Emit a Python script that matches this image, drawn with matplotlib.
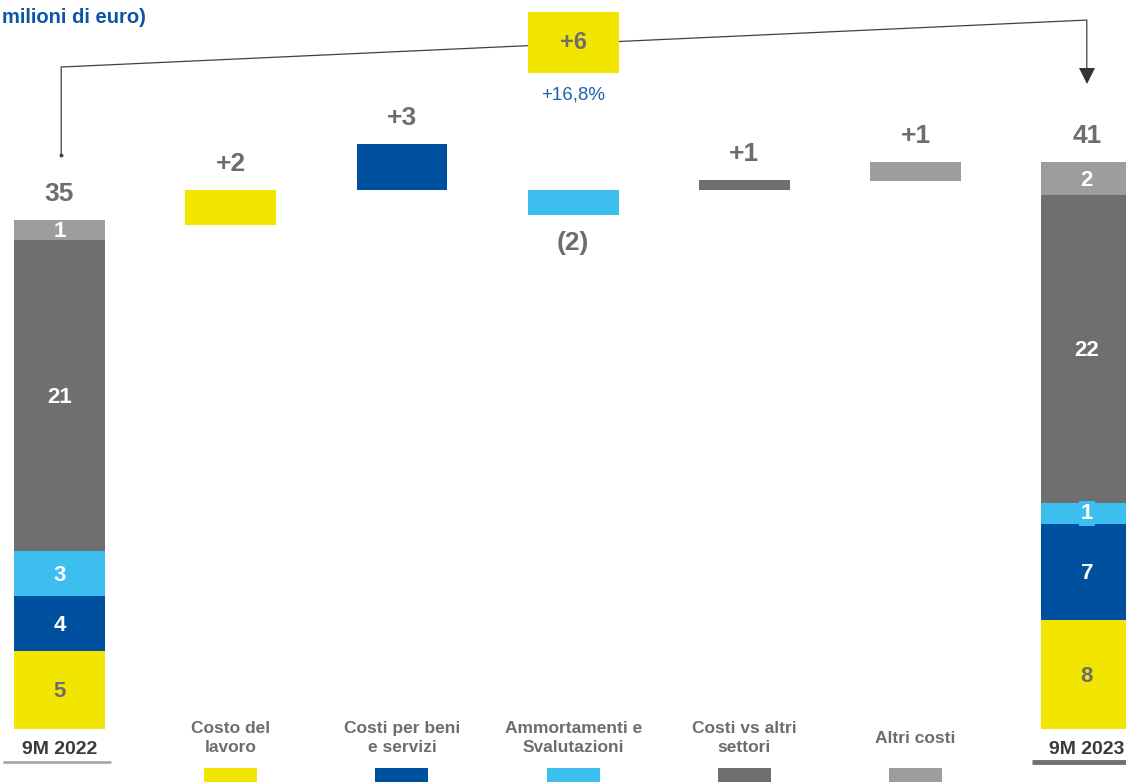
import matplotlib.pyplot as plt
from matplotlib.patches import Rectangle

plt.rcParams['font.family'] = ['Liberation Sans', 'DejaVu Sans']

# --- data ---
components = ["Costo del\nlavoro", "Costi per beni\ne servizi", "Ammortamenti e\nSvalutazioni",
              "Costi vs altri\nsettori", "Altri costi"]
colors = ["#f2e600", "#0050a0", "#3cbfee", "#6f6f6f", "#9d9d9c"]
text_colors = ["#6d6d6d", "white", "white", "white", "white"]

periods = ["9M 2022", "9M 2023"]
totals = [35, 41]
# segment heights as drawn (labels are rounded values)
seg_2022 = [5.36, 3.78, 3.09, 21.39, 1.38]
seg_2023 = [7.50, 6.60, 1.44, 21.18, 2.27]
lab_2022 = ["5", "4", "3", "21", "1"]
lab_2023 = ["8", "7", "1", "22", "2"]

# waterfall steps as drawn: bottom, top
step_bottom = [34.66, 37.07, 35.35, 37.07, 37.69]
step_top = [37.07, 40.23, 37.07, 37.76, 39.00]
step_labels = ["+2", "+3", "(2)", "+1", "+1"]

delta_total = "+6"
delta_pct = "+16,8%"

# --- figure ---
fig = plt.figure(figsize=(11.26, 7.82), dpi=100)
ax = fig.add_axes([0, 0, 1, 1])
ax.set_xlim(-0.3475, 6.229)
ax.set_ylim(-3.645, 50.14)
ax.axis("off")

W = 0.53
gray_txt = "#6d6d6d"

# stacked end bars
for xi, segs, labs in [(0, seg_2022, lab_2022), (6, seg_2023, lab_2023)]:
    bottom = 0
    for i, (h, lab) in enumerate(zip(segs, labs)):
        ax.bar(xi, h, bottom=bottom, width=W, color=colors[i], linewidth=0)
        kw = {}
        dy = -0.12
        if xi == 6 and i == 2:
            # small segment: label sits on a box of the same colour
            kw = dict(bbox=dict(facecolor=colors[i], edgecolor="none", pad=1.2))
            dy = 0.0
        ax.text(xi, bottom + h / 2 + dy, lab, ha="center", va="center", fontsize=16,
                fontweight="bold", color=text_colors[i], **kw)
        bottom += h
    ax.annotate(str(totals[0 if xi == 0 else 1]), (xi, bottom), xytext=(0, 18.5),
                textcoords="offset points", ha="center", va="center",
                fontsize=19, fontweight="bold", color=gray_txt)

# waterfall steps
for i in range(5):
    xi = i + 1
    ax.bar(xi, step_top[i] - step_bottom[i], bottom=step_bottom[i], width=W,
           color=colors[i], linewidth=0)
    if step_labels[i].startswith("("):
        ax.annotate(step_labels[i], (xi, step_bottom[i]), xytext=(0, -20),
                    textcoords="offset points", ha="center", va="center",
                    fontsize=19, fontweight="bold", color=gray_txt)
    else:
        ax.annotate(step_labels[i], (xi, step_top[i]), xytext=(0, 18.5),
                    textcoords="offset points", ha="center", va="center",
                    fontsize=19, fontweight="bold", color=gray_txt)
    # category labels
    ax.text(xi, -0.62, components[i], ha="center", va="center", fontsize=12.5,
            fontweight="bold", color=gray_txt, linespacing=1.3)
    # legend swatch
    ax.add_patch(Rectangle((xi - 0.155, -3.7), 0.31, 1.02, color=colors[i], lw=0))

# period labels with underline
ax.text(0, -1.4, periods[0], ha="center", va="center", fontsize=14,
        fontweight="bold", color="#3a3a3a")
ax.plot([-0.33, 0.3], [-2.27, -2.27], color="#a0a0a0", lw=1.8, solid_capstyle="butt")
ax.text(6, -1.4, periods[1], ha="center", va="center", fontsize=14,
        fontweight="bold", color="#3a3a3a")
ax.plot([5.68, 6.3], [-2.27, -2.27], color="#6f6f6f", lw=3.5, solid_capstyle="butt")

# bracket with total change
ax.plot([0.01, 0.01, 6.0, 6.0], [39.48, 45.53, 48.76, 44.9], color="#404040", lw=0.9, zorder=1)
ax.plot(0.01, 39.48, marker="o", ms=1.8, color="#404040")
ax.plot(6.0, 44.9, marker="v", ms=11, color="#333333", markeredgewidth=0)
ax.add_patch(Rectangle((3 - W / 2, 45.12), W, 4.2, color=colors[0], lw=0, zorder=2))
ax.text(3, 47.22, delta_total, ha="center", va="center", fontsize=17,
        fontweight="bold", color=gray_txt, zorder=3)
ax.text(3, 43.6, delta_pct, ha="center", va="center", fontsize=13.5,
        color="#1f64ad")

# title fragment
fig.text(0.002, 0.977, "milioni di euro)", ha="left", va="center", fontsize=14.5,
         fontweight="bold", color="#0a55a5")

fig.savefig("out.png", dpi=100)
